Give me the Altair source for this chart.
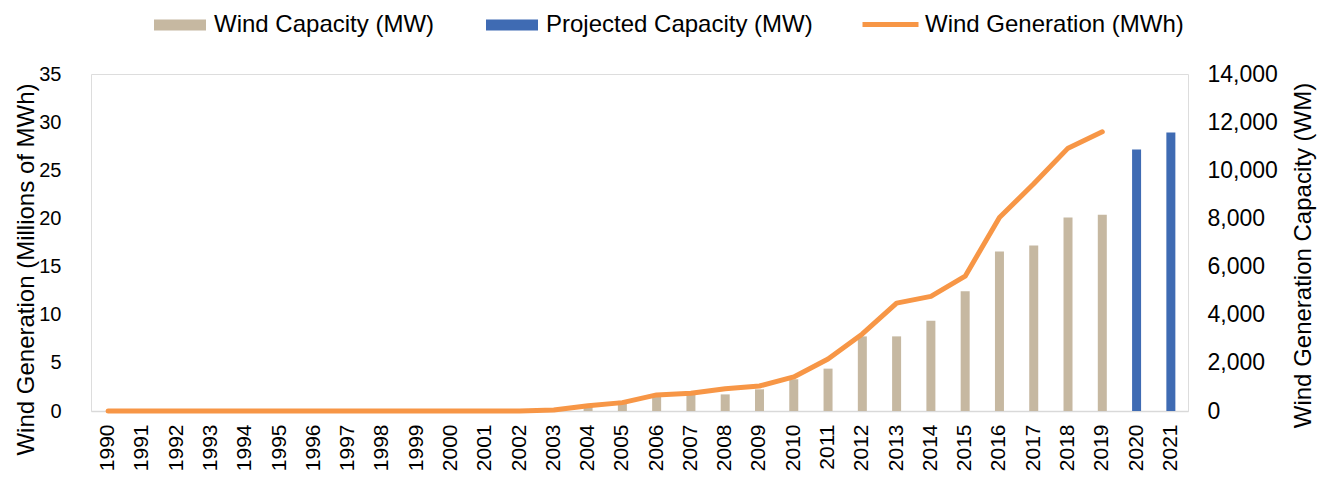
import altair as alt
import pandas as pd

years = [str(y) for y in range(1990, 2022)]

# Wind capacity (MW), 1990-2019
capacity = [0, 0, 0, 0, 0, 0, 0, 0, 0, 0, 0, 0, 0,
            120, 180, 420, 600, 700, 690, 900, 1320, 1760, 3100, 3100,
            3750, 4970, 6625, 6875, 8040, 8155]
# Projected capacity (MW), 2020-2021
projected_years = ["2020", "2021"]
projected = [10860, 11570]
# Wind generation (millions of MWh), 1990-2019
generation = [0, 0, 0, 0, 0, 0, 0, 0, 0, 0, 0, 0, 0,
              0.1, 0.55, 0.87, 1.67, 1.84, 2.3, 2.6, 3.54, 5.4, 8.0, 11.2,
              11.9, 14.0, 20.1, 23.6, 27.3, 29.0]

bar_names = ["Wind Capacity (MW)", "Projected Capacity (MW)"]
bar_colors = ["#C6B8A1", "#3F6BB3"]
line_name = "Wind Generation (MWh)"
line_color = "#F79646"

bar_df = pd.DataFrame({
    "year": years[:len(capacity)] + projected_years,
    "mw": capacity + projected,
    "series": [bar_names[0]] * len(capacity) + [bar_names[1]] * len(projected),
})
line_df = pd.DataFrame({"year": years[:len(generation)], "gen": generation,
                        "series": [line_name] * len(generation)})

FONT = "Liberation Sans"

x_enc = alt.X("year:O", sort=years,
              scale=alt.Scale(domain=years, paddingInner=0, paddingOuter=0),
              axis=alt.Axis(title=None, labelAngle=270, labelFontSize=21, labelPadding=13,
                            ticks=False, tickSize=0, domainColor="#D9D9D9", domainWidth=1.5,
                            labelColor="#000000", labelFont=FONT))

bars = alt.Chart(bar_df).mark_bar(size=9).encode(
    x=x_enc,
    y=alt.Y("mw:Q", scale=alt.Scale(domain=[0, 14000], nice=False),
            axis=alt.Axis(orient="right", values=list(range(0, 14001, 2000)), format=",.0f",
                          grid=False, domain=False, ticks=False, tickSize=0,
                          labelPadding=19, labelFontSize=23, labelColor="#000000", labelFont=FONT,
                          title="Wind Generation Capacity (WM)", titleFontSize=24,
                          titleFontWeight="normal", titleColor="#000000", titleFont=FONT,
                          titleAngle=270, titleX=122, titleY=181, titleAlign="center",
                          titleBaseline="alphabetic")),
    color=alt.Color("series:N",
                    scale=alt.Scale(domain=bar_names, range=bar_colors),
                    legend=alt.Legend(
                        orient="none", legendX=63, legendY=-75, direction="horizontal",
                        title=None, labelFontSize=24, labelFont=FONT, labelColor="#000000",
                        labelLimit=500,
                        symbolSize=2704, symbolStrokeWidth=0, labelOffset=8,
                        columnPadding=51, symbolOpacity=1,
                        symbolType="M-1,-0.21H1V0.21H-1Z")),
)

line = alt.Chart(line_df).mark_line(strokeWidth=5, strokeCap="round",
                                    strokeJoin="round").encode(
    x=x_enc,
    y=alt.Y("gen:Q", scale=alt.Scale(domain=[0, 35], nice=False),
            axis=alt.Axis(orient="left", values=list(range(0, 36, 5)),
                          grid=False, domain=False, ticks=False, tickSize=0,
                          labelPadding=30, labelFontSize=20, labelColor="#000000", labelFont=FONT,
                          title="Wind Generation (Millions of MWh)", titleFontSize=24,
                          titleFontWeight="normal", titleColor="#000000", titleFont=FONT,
                          titleAngle=270, titleX=-58, titleY=195, titleAlign="center",
                          titleBaseline="alphabetic")),
    stroke=alt.Stroke("series:N",
                      scale=alt.Scale(domain=[line_name], range=[line_color]),
                      legend=alt.Legend(
                          orient="none", legendX=769, legendY=-80, direction="horizontal",
                          title=None, labelFontSize=24, labelFont=FONT, labelColor="#000000",
                          labelLimit=500,
                          symbolType="stroke", symbolSize=3136, symbolStrokeWidth=5,
                          labelOffset=4, symbolOpacity=1)),
)

chart = alt.layer(bars, line).resolve_scale(y="independent").properties(
    width=1097, height=337,
    padding={"left": 83, "top": 66, "right": 132, "bottom": 61},
    autosize=alt.AutoSizeParams(type="none"),
).configure_view(stroke=None).configure(font=FONT)

chart.save("out.html", embed_options={"renderer": "svg", "actions": False})
